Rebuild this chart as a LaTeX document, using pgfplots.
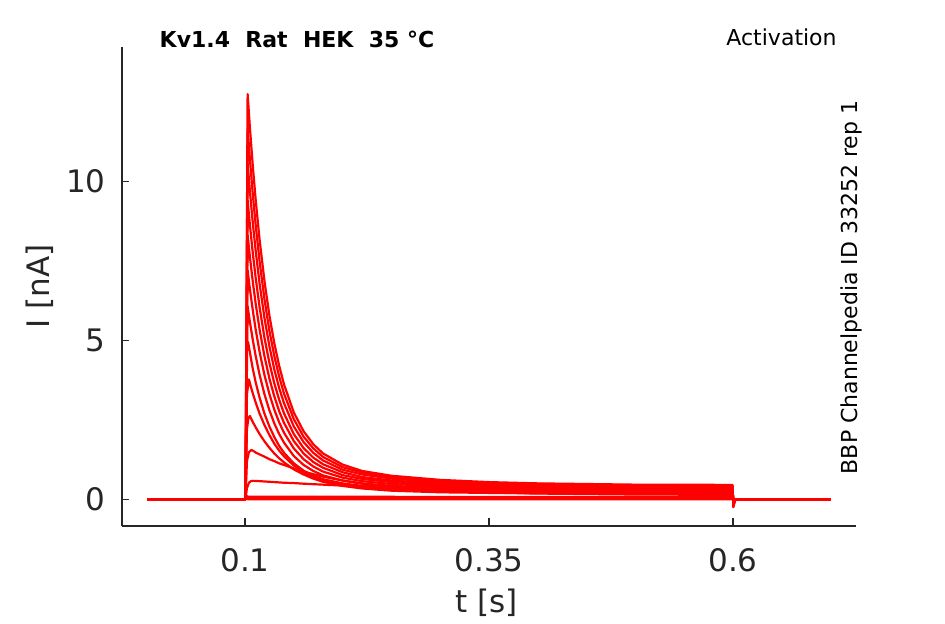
\documentclass[border=0pt]{standalone}
\usepackage{pgfplots}
\pgfplotsset{compat=1.18}
\usepackage{fontspec}
\setmainfont{DejaVu Sans}
\definecolor{axgray}{HTML}{262626}
\tikzset{tr/.style={color=red, line width=1.1pt, line join=round, mark=none, solid}}
\begin{document}
\begin{tikzpicture}
\path[use as bounding box] (-61pt,-49pt) rectangle (411.5pt,263pt);
\begin{axis}[
  at={(0,0)}, anchor=south west,
  scale only axis, width=367pt, height=239.5pt,
  xmin=-0.026, xmax=0.726, ymin=-0.84, ymax=14.22,
  axis x line=bottom, axis y line=left,
  axis line style={-, draw=axgray, line width=0.6pt},
  tick align=inside, major tick length=3.75pt,
  tick style={draw=axgray, line width=0.6pt},
  xtick={0.1,0.35,0.6}, xticklabels={0.1,0.35,0.6},
  ytick={0,5,10}, yticklabels={0,5,10},
  xticklabel style={anchor=base, yshift=-23pt, text=axgray, font=\fontsize{15.5}{18}\selectfont},
  yticklabel style={anchor=east, inner sep=0pt, xshift=-8pt, text=axgray, font=\fontsize{15.5}{18}\selectfont},
  xlabel={t [s]}, ylabel={I [nA]},
  xlabel style={at={(axis description cs:0.497,-0.1816)}, anchor=base, text=axgray, font=\fontsize{15.5}{18}\selectfont},
  ylabel style={at={(axis description cs:-0.0981,0.5)}, anchor=base, rotate=0, text=axgray, font=\fontsize{15.5}{18}\selectfont},
  clip=false,
]
% trace 1
\addplot[tr] coordinates {(0,0)(0.1,0)(0.1005,0)(0.1027,12.74)(0.105,11.70)(0.108,10.48)(0.111,9.40)(0.115,8.15)(0.12,6.85)(0.125,5.78)(0.13,4.91)(0.135,4.20)(0.14,3.61)(0.15,2.73)(0.16,2.14)(0.17,1.73)(0.18,1.44)(0.2,1.09)(0.22,0.89)(0.25,0.74)(0.3,0.61)(0.35,0.54)(0.4,0.50)(0.45,0.48)(0.5,0.46)(0.55,0.46)(0.5995,0.45)(0.6003,-0.25)(0.602,-0.03)(0.606,0)(0.7,0)};
% trace 2
\addplot[tr] coordinates {(0,0)(0.1,0)(0.1005,0)(0.1027,11.66)(0.105,10.71)(0.108,9.59)(0.111,8.61)(0.115,7.47)(0.12,6.28)(0.125,5.30)(0.13,4.51)(0.135,3.86)(0.14,3.32)(0.15,2.52)(0.16,1.97)(0.17,1.60)(0.18,1.33)(0.2,1.01)(0.22,0.84)(0.25,0.69)(0.3,0.57)(0.35,0.51)(0.4,0.48)(0.5,0.44)(0.5995,0.43)(0.6003,-0.22)(0.602,-0.03)(0.606,0)(0.7,0)};
% trace 3
\addplot[tr] coordinates {(0,0)(0.1,0)(0.1005,0)(0.1027,10.56)(0.105,9.70)(0.108,8.69)(0.111,7.80)(0.115,6.77)(0.12,5.69)(0.125,4.81)(0.13,4.09)(0.135,3.50)(0.14,3.02)(0.15,2.29)(0.16,1.80)(0.17,1.46)(0.18,1.22)(0.2,0.93)(0.22,0.78)(0.25,0.65)(0.3,0.54)(0.35,0.48)(0.4,0.45)(0.5,0.42)(0.5995,0.41)(0.6003,-0.20)(0.602,-0.03)(0.606,0)(0.7,0)};
% trace 4
\addplot[tr] coordinates {(0,0)(0.1,0)(0.1005,0)(0.1027,9.40)(0.105,8.64)(0.108,7.74)(0.111,6.95)(0.115,6.03)(0.12,5.07)(0.125,4.29)(0.13,3.65)(0.135,3.13)(0.14,2.70)(0.15,2.05)(0.16,1.61)(0.17,1.31)(0.18,1.10)(0.2,0.85)(0.22,0.70)(0.25,0.59)(0.3,0.49)(0.35,0.44)(0.4,0.42)(0.5,0.39)(0.5995,0.38)(0.6003,-0.18)(0.602,-0.02)(0.606,0)(0.7,0)};
% trace 5
\addplot[tr] coordinates {(0,0)(0.1,0)(0.1005,0)(0.1027,8.30)(0.105,7.63)(0.108,6.84)(0.111,6.14)(0.115,5.33)(0.12,4.49)(0.125,3.80)(0.13,3.24)(0.135,2.77)(0.14,2.40)(0.15,1.83)(0.16,1.44)(0.17,1.17)(0.18,0.99)(0.2,0.76)(0.22,0.64)(0.25,0.54)(0.3,0.45)(0.35,0.41)(0.4,0.38)(0.5,0.36)(0.5995,0.35)(0.6003,-0.16)(0.602,-0.02)(0.606,0)(0.7,0)};
% trace 6
\addplot[tr] coordinates {(0,0)(0.1,0)(0.1005,0)(0.1027,7.20)(0.105,6.62)(0.108,5.94)(0.111,5.33)(0.115,4.63)(0.12,3.90)(0.125,3.31)(0.13,2.82)(0.135,2.42)(0.14,2.09)(0.15,1.60)(0.16,1.26)(0.17,1.03)(0.18,0.87)(0.2,0.68)(0.22,0.57)(0.25,0.48)(0.3,0.41)(0.35,0.37)(0.4,0.35)(0.5,0.32)(0.5995,0.32)(0.6003,-0.14)(0.602,-0.02)(0.606,0)(0.7,0)};
% trace 7
\addplot[tr] coordinates {(0,0)(0.1,0)(0.1005,0)(0.1027,6.07)(0.105,5.58)(0.108,5.01)(0.111,4.50)(0.115,3.91)(0.12,3.30)(0.125,2.80)(0.13,2.39)(0.135,2.05)(0.14,1.78)(0.15,1.36)(0.16,1.08)(0.17,0.89)(0.18,0.75)(0.2,0.59)(0.22,0.50)(0.25,0.42)(0.3,0.36)(0.35,0.33)(0.4,0.31)(0.5,0.29)(0.5995,0.28)(0.6003,-0.12)(0.602,-0.02)(0.606,0)(0.7,0)};
% trace 8
\addplot[tr] coordinates {(0,0)(0.1,0)(0.1005,0)(0.102,4.80)(0.1032,4.94)(0.105,4.62)(0.108,4.10)(0.111,3.67)(0.115,3.19)(0.12,2.69)(0.125,2.29)(0.13,1.96)(0.135,1.68)(0.14,1.46)(0.15,1.13)(0.16,0.90)(0.17,0.74)(0.18,0.63)(0.2,0.50)(0.22,0.42)(0.25,0.36)(0.3,0.31)(0.35,0.29)(0.4,0.27)(0.5,0.26)(0.5995,0.25)(0.6003,-0.10)(0.602,-0.02)(0.606,0)(0.7,0)};
% trace 9
\addplot[tr] coordinates {(0,0)(0.1,0)(0.1005,0)(0.102,3.30)(0.104,3.77)(0.106,3.54)(0.108,3.33)(0.111,3.04)(0.115,2.69)(0.12,2.33)(0.125,2.02)(0.13,1.75)(0.135,1.53)(0.14,1.35)(0.15,1.06)(0.16,0.85)(0.17,0.70)(0.18,0.60)(0.2,0.46)(0.22,0.38)(0.25,0.32)(0.3,0.27)(0.35,0.25)(0.4,0.24)(0.5,0.23)(0.5995,0.22)(0.6003,-0.09)(0.602,-0.02)(0.606,0)(0.7,0)};
% trace 10
\addplot[tr] coordinates {(0,0)(0.1,0)(0.1005,0)(0.102,2.20)(0.1035,2.55)(0.105,2.62)(0.108,2.43)(0.111,2.26)(0.115,2.05)(0.12,1.82)(0.125,1.62)(0.13,1.44)(0.135,1.29)(0.14,1.16)(0.15,0.94)(0.16,0.78)(0.17,0.65)(0.18,0.55)(0.2,0.42)(0.22,0.34)(0.25,0.27)(0.3,0.22)(0.35,0.20)(0.4,0.19)(0.5,0.19)(0.5995,0.18)(0.6003,-0.07)(0.602,-0.01)(0.606,0)(0.7,0)};
% trace 11
\addplot[tr] coordinates {(0,0)(0.1,0)(0.1005,0)(0.102,1.20)(0.104,1.48)(0.1065,1.55)(0.108,1.53)(0.111,1.47)(0.115,1.41)(0.12,1.34)(0.125,1.26)(0.13,1.20)(0.135,1.13)(0.14,1.08)(0.15,0.97)(0.16,0.87)(0.17,0.79)(0.18,0.71)(0.2,0.59)(0.22,0.49)(0.25,0.38)(0.3,0.27)(0.35,0.21)(0.4,0.18)(0.5,0.15)(0.5995,0.14)(0.6003,-0.05)(0.602,-0.01)(0.606,0)(0.7,0)};
% trace 12
\addplot[tr] coordinates {(0,0)(0.1,0)(0.1005,0)(0.102,0.35)(0.104,0.52)(0.106,0.57)(0.108,0.58)(0.115,0.57)(0.12,0.56)(0.13,0.54)(0.14,0.52)(0.15,0.51)(0.16,0.49)(0.18,0.46)(0.2,0.43)(0.22,0.41)(0.25,0.37)(0.3,0.32)(0.35,0.28)(0.4,0.25)(0.5,0.20)(0.5995,0.17)(0.6003,-0.04)(0.602,0)(0.7,0)};
% trace 13
\addplot[tr] coordinates {(0,0)(0.1,0)(0.1005,0)(0.101,0.12)(0.103,0.08)(0.2,0.08)(0.35,0.07)(0.5995,0.07)(0.6003,-0.02)(0.602,0)(0.7,0)};
% trace 14
\addplot[tr] coordinates {(0,0)(0.1,0)(0.1005,0)(0.101,0.05)(0.103,0.03)(0.3,0.03)(0.5995,0.02)(0.6003,-0.01)(0.602,0)(0.7,0)};
% trace 15
\addplot[tr] coordinates {(0,0)(0.1,0)(0.1005,0)(0.101,0.02)(0.103,0)(0.5995,0)(0.6003,-0.01)(0.602,0)(0.7,0)};
\end{axis}
\node[anchor=base west, inner sep=0pt, font=\fontsize{11}{13}\selectfont\bfseries] at (18.65pt,239.15pt) {Kv1.4\ \ Rat\ \ HEK\ \ 35 °C};
\node[anchor=base east, inner sep=0pt, font=\fontsize{11}{13}\selectfont] at (357.5pt,240.15pt) {Activation};
\node[anchor=base, rotate=90, inner sep=0pt, font=\fontsize{11}{13}\selectfont] at (367.5pt,119.25pt) {BBP Channelpedia ID 33252 rep 1};
\end{tikzpicture}
\end{document}
